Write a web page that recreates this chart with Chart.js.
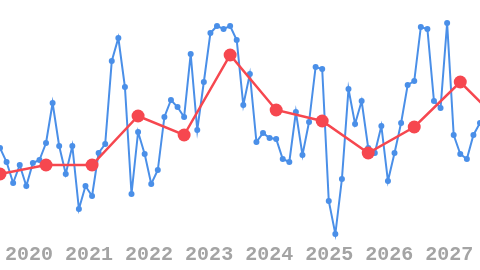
<!DOCTYPE html>
<html>
<head>
<meta charset="utf-8">
<script src="https://cdn.jsdelivr.net/npm/chart.js@4.4.1/dist/chart.umd.min.js"></script>
<style>
  html, body { margin: 0; padding: 0; background: #fff; }
  #chart { display: block; }
</style>
</head>
<body>
<canvas id="chart" width="480" height="270"></canvas>
<script>
// samples every 40 days, starting mid 2019
const startYear = 2019.517;
const stepYears = 40 / 365.25;

// fine series (every sample)
const detailValues = [
  46, 39, 28.5, 37.5, 27, 38.5, 40, 48.5, 68.5, 47,
  33, 47, 15.5, 27, 22, 43.5, 48, 89.5, 101, 76.5,
  23, 54, 43, 28, 35, 61.5, 70, 66.5, 61.5, 93,
  55, 79, 103.5, 107, 105.5, 107, 100, 67.5, 83, 49,
  53.5, 51, 50.5, 40.5, 39, 64, 42.5, 59, 86.5, 85.5,
  19.5, 3, 30.5, 75.5, 58, 69.5, 46, 43.5, 57, 29.5,
  43.5, 58.5, 77.5, 79.5, 106.5, 105.5, 69.5, 66, 108.5, 52.5,
  43, 40.5, 52.5, 58.5
];

// coarse series (every 7th sample)
const coarseEvery = 7;
const coarseValues = [33, 37.5, 37.5, 62, 52.5, 92.5, 65, 59.5, 43.5, 56.5, 79, 56];

const yearLabels = ['2020', '2021', '2022', '2023', '2024', '2025', '2026', '2027'];

const blue = '#4a8fe8';
const red = '#f6474f';

document.addEventListener('DOMContentLoaded', () => {
  const detailPoints = detailValues.map((v, i) => ({ x: startYear + i * stepYears, y: v }));
  const coarsePoints = coarseValues.map((v, i) => ({ x: startYear + i * coarseEvery * stepYears, y: v }));

  new Chart(document.getElementById('chart').getContext('2d'), {
    type: 'line',
    data: {
      datasets: [
        {
          data: coarsePoints,
          borderColor: red,
          backgroundColor: red,
          borderWidth: 2.5,
          pointRadius: 6.5,
          pointBorderWidth: 0,
          tension: 0
        },
        {
          data: detailPoints,
          borderColor: blue,
          backgroundColor: blue,
          borderWidth: 2,
          pointRadius: 3,
          pointBorderWidth: 0,
          tension: 0
        }
      ]
    },
    options: {
      responsive: false,
      animation: false,
      layout: { padding: 0, autoPadding: false },
      plugins: { legend: { display: false }, tooltip: { enabled: false } },
      scales: {
        x: {
          type: 'linear',
          min: startYear,
          max: startYear + (detailValues.length - 1) * stepYears,
          grid: { display: false, drawTicks: false },
          border: { display: false },
          ticks: {
            stepSize: 1,
            includeBounds: false,
            padding: 0,
            color: '#a4a4a4',
            font: { family: '"Liberation Mono", "Courier New", monospace', size: 20, weight: 'bold' },
            maxRotation: 0,
            callback: (value) => yearLabels[value - 2020] || ''
          },
          // plot runs edge to edge, labels sit in a fixed strip
          afterFit: (scale) => {
            scale.paddingLeft = 0;
            scale.paddingRight = 0;
            scale.height = 27;
          }
        },
        y: {
          display: false,
          min: -1.5,
          max: 120
        }
      }
    }
  });
});
</script>
</body>
</html>
